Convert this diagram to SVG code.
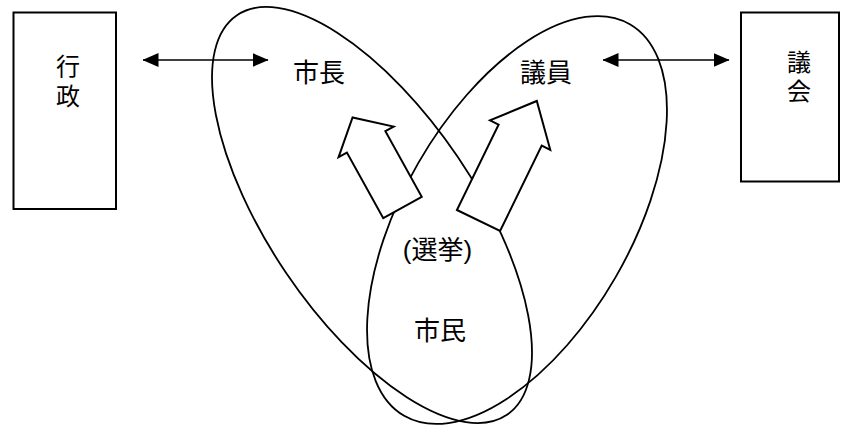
<svg xmlns="http://www.w3.org/2000/svg" width="848" height="425" viewBox="0 0 848 425">
<style>
.oval{fill:none;stroke:#000;stroke-width:1.8}
.block{fill:#fff;stroke:#000;stroke-width:2;stroke-linejoin:miter}
.box{fill:#fff;stroke:#000;stroke-width:2}
.conn{stroke:#000;stroke-width:1.5;fill:none}
.lbl{font-family:"Liberation Sans","Noto Sans CJK JP",sans-serif;font-size:24px;fill:#000;text-anchor:middle}
.big{font-size:26px}
</style>
<defs>
<marker id="ah" viewBox="0 0 16 14" markerWidth="16" markerHeight="14" refX="15.5" refY="7" markerUnits="userSpaceOnUse" orient="auto-start-reverse">
<path d="M0,0 L16,7 L0,14 z" fill="#000"/>
</marker>
</defs>
<g id="mayor-oval"><ellipse class="oval" cx="0" cy="0" rx="103.6" ry="241.1" transform="translate(372,215) rotate(-34.05)"/></g>
<g id="member-oval"><ellipse class="oval" cx="0" cy="0" rx="114" ry="226" transform="translate(517,220) rotate(29.95)"/></g>
<g id="vote-left"><polygon class="block" points="-22,0 22,0 22,-75 31.5,-75 0,-103 -31.5,-75 -22,-75" transform="translate(402.5,207.5) rotate(-29)"/></g>
<g id="vote-right"><polygon class="block" points="-24,0 24,0 24,-95 33.5,-95 0,-133 -33.5,-95 -24,-95" transform="translate(478.5,220.5) rotate(26)"/></g>
<g id="gyosei"><rect class="box" x="13.5" y="12.5" width="102.5" height="196.5"/><text class="lbl" x="68" y="75">行</text><text class="lbl" x="68" y="105">政</text></g>
<g id="gikai"><rect class="box" x="741" y="12.5" width="98" height="169"/><text class="lbl" x="799" y="71">議</text><text class="lbl" x="799" y="100">会</text></g>
<g id="shicho"><text class="lbl big" x="319" y="82">市長</text></g>
<g id="giin"><text class="lbl big" x="546" y="82">議員</text></g>
<g id="senkyo"><text class="lbl big" x="437.5" y="259">(選挙)</text></g>
<g id="shimin"><text class="lbl big" x="440" y="340">市民</text></g>
<g id="connectors">
<line class="conn" x1="143" y1="60" x2="268" y2="60" marker-start="url(#ah)" marker-end="url(#ah)"/>
<line class="conn" x1="603" y1="60" x2="729" y2="60" marker-start="url(#ah)" marker-end="url(#ah)"/>
</g>
</svg>
